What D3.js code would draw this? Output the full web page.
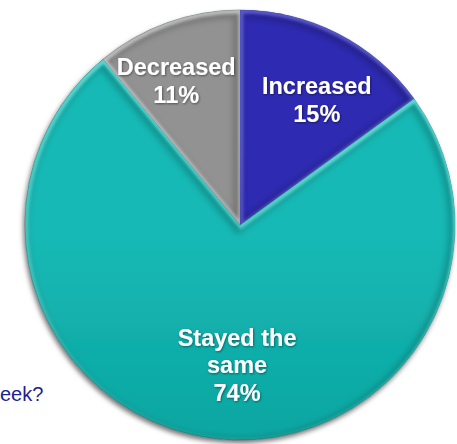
<!DOCTYPE html>
<html>
<head>
<meta charset="utf-8">
<script src="https://cdn.jsdelivr.net/npm/d3@7/dist/d3.min.js"></script>
<style>
  html, body { margin: 0; padding: 0; background: #ffffff; }
  svg { display: block; }
</style>
</head>
<body>
<svg id="chart" width="457" height="444"></svg>
<script>
// Survey answers: share of respondents per response
const categories = ["Increased", "Stayed the same", "Decreased"];
const values = [15, 74, 11];
const labelLines = [["Increased"], ["Stayed the", "same"], ["Decreased"]];
const questionTail = "eek?";

// Slice colours (top, bottom of the vertical shading) and edge highlight
const colorTop = ["#2e2bb2", "#15b9b5", "#929292"];
const colorBottom = ["#23209a", "#05908b", "#7e7e7e"];
const highlight = ["#6361d8", "#6ae4de", "#c8c8c8"];

// Label placement relative to each slice's mid angle
const labelRadius = [147, 140, 158];
const labelAngleNudge = [4.5, -6, -4]; // degrees

const width = 457, height = 444;
const cx = 240, cy = 225, radius = 215;
const fontSize = 23.5, lineHeight = 27.5;

const svg = d3.select("#chart");
const defs = svg.append("defs");

const data = categories.map((c, i) => ({ category: c, value: values[i], idx: i }));

const pie = d3.pie().value(d => d.value).sort(null).startAngle(0).endAngle(2 * Math.PI);
const arcs = pie(data);
const arc = d3.arc().innerRadius(0).outerRadius(radius);

// Vertical gradients per slice, plus highlight gradients that fade out towards the bottom
arcs.forEach((a, i) => {
  const g = defs.append("linearGradient")
    .attr("id", "grad" + i)
    .attr("gradientUnits", "userSpaceOnUse")
    .attr("x1", 0).attr("y1", cy - radius).attr("x2", 0).attr("y2", cy + radius);
  g.append("stop").attr("offset", "0%").attr("stop-color", colorTop[i]);
  g.append("stop").attr("offset", "100%").attr("stop-color", colorBottom[i]);

  const h = defs.append("linearGradient")
    .attr("id", "hl" + i)
    .attr("gradientUnits", "userSpaceOnUse")
    .attr("x1", cx + radius * 0.3).attr("y1", cy - radius)
    .attr("x2", cx - radius * 0.3).attr("y2", cy + radius * 0.7);
  h.append("stop").attr("offset", "0%").attr("stop-color", highlight[i]).attr("stop-opacity", 0.85);
  h.append("stop").attr("offset", "55%").attr("stop-color", highlight[i]).attr("stop-opacity", 0.5);
  h.append("stop").attr("offset", "100%").attr("stop-color", highlight[i]).attr("stop-opacity", 0);

  defs.append("clipPath").attr("id", "clip" + i)
    .append("path").attr("d", arc(a)).attr("transform", `translate(${cx},${cy})`);
});

// Soft drop shadow under the whole pie
const shadow = defs.append("filter").attr("id", "pieShadow")
  .attr("x", "-10%").attr("y", "-10%").attr("width", "120%").attr("height", "120%");
shadow.append("feDropShadow")
  .attr("dx", -1.5).attr("dy", 3).attr("stdDeviation", 2.5)
  .attr("flood-color", "#000").attr("flood-opacity", 0.55);

const blur = defs.append("filter").attr("id", "edgeBlur")
  .attr("x", "-10%").attr("y", "-10%").attr("width", "120%").attr("height", "120%");
blur.append("feGaussianBlur").attr("stdDeviation", 1.4);

const rimBlur = defs.append("filter").attr("id", "rimBlur")
  .attr("x", "-10%").attr("y", "-10%").attr("width", "120%").attr("height", "120%");
rimBlur.append("feGaussianBlur").attr("stdDeviation", 3);

const textShadow = defs.append("filter").attr("id", "textShadow")
  .attr("x", "-10%").attr("y", "-20%").attr("width", "120%").attr("height", "140%");
textShadow.append("feDropShadow")
  .attr("dx", 0.8).attr("dy", 1).attr("stdDeviation", 0.8)
  .attr("flood-color", "#000").attr("flood-opacity", 0.45);

// Question text, running in from the left edge
svg.append("text")
  .attr("x", 0).attr("y", 401)
  .attr("text-anchor", "start")
  .attr("font-family", "Liberation Sans, Arial, sans-serif")
  .attr("font-size", 20)
  .attr("fill", "#1f1f8f")
  .text(questionTail);

const pieG = svg.append("g")
  .attr("transform", `translate(${cx},${cy})`);

// Base fill with shadow
pieG.append("g").attr("filter", "url(#pieShadow)")
  .selectAll("path").data(arcs).join("path")
  .attr("d", arc)
  .attr("fill", (d, i) => `url(#grad${i})`);

// Bevel: darker rim towards the lower left, light highlight along the upper edges
const bevel = svg.append("g");
arcs.forEach((a, i) => {
  const g = bevel.append("g").attr("clip-path", `url(#clip${i})`);
  g.append("path")
    .attr("d", arc(a))
    .attr("fill", "none")
    .attr("stroke", "#000")
    .attr("stroke-opacity", 0.2)
    .attr("stroke-width", 10)
    .attr("filter", "url(#rimBlur)")
    .attr("transform", `translate(${cx - 2},${cy + 3})`);
  g.append("path")
    .attr("transform", `translate(${cx + 1},${cy + 1})`)
    .attr("d", arc(a))
    .attr("fill", "none")
    .attr("stroke", `url(#hl${i})`)
    .attr("stroke-width", 5)
    .attr("filter", "url(#edgeBlur)");
});

// Thin seams between slices and a dark outer edge
pieG.append("g").selectAll("path").data(arcs).join("path")
  .attr("d", arc)
  .attr("fill", "none")
  .attr("stroke", "#103838")
  .attr("stroke-opacity", 0.4)
  .attr("stroke-width", 0.9);

// Labels
const labels = svg.append("g")
  .attr("font-family", "Liberation Sans, Arial, sans-serif")
  .attr("font-weight", "bold")
  .attr("font-size", fontSize)
  .attr("fill", "#ffffff")
  .attr("text-anchor", "middle")
  .attr("filter", "url(#textShadow)");

arcs.forEach((a, i) => {
  const mid = (a.startAngle + a.endAngle) / 2 + labelAngleNudge[i] * Math.PI / 180;
  const x = cx + labelRadius[i] * Math.sin(mid);
  const y = cy - labelRadius[i] * Math.cos(mid);
  const lines = labelLines[i].concat([d3.format(".0f")(a.data.value) + "%"]);
  const n = lines.length;
  const firstBaseline = y - (n - 1) * lineHeight / 2 + fontSize * 0.36;
  const t = labels.append("text");
  lines.forEach((ln, k) => {
    t.append("tspan").attr("x", x).attr("y", firstBaseline + k * lineHeight).text(ln);
  });
});
</script>
</body>
</html>
